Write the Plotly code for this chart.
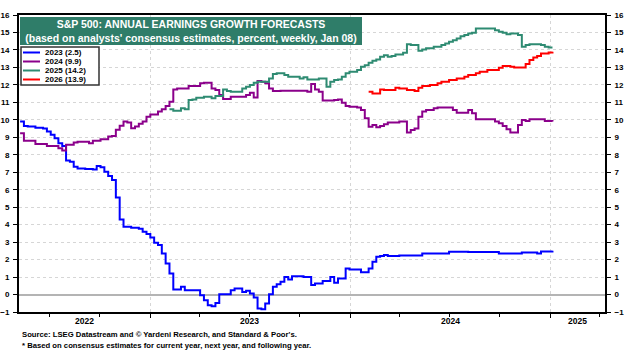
import pandas as pd
import plotly.graph_objects as go

# ---------------- data (weekly, step changes; week index from START) -------------
START = "2022-05-08"

w2023 = [0, 1, 2, 4, 6, 7, 8, 9, 10, 11, 12, 13, 14, 15, 17, 19, 20, 21, 22, 23, 24, 25, 26, 27, 29, 31,
         32, 33, 34, 35, 36, 37, 38, 39, 40, 42, 43, 47, 48, 49, 50, 51, 52, 55, 56, 58, 59, 60, 61, 62,
         63, 64, 65, 66, 67, 68, 69, 70, 71, 74, 76, 77, 79, 81, 82, 83, 85, 86, 89, 91, 92, 93, 94, 95,
         96, 99, 105, 112, 117, 125, 131, 135, 136, 139]
v2023 = [9.9, 9.65, 9.62, 9.55, 9.5, 9.33, 9.14, 8.95, 8.66, 8.5, 7.67, 7.6, 7.32, 7.22, 7.18, 7.15,
         7.36, 7.28, 7.03, 6.79, 6.56, 5.56, 4.3, 3.88, 3.82, 3.76, 3.6, 3.46, 3.27, 2.96, 2.83, 2.35,
         1.78, 1.2, 0.29, 0.44, 0.25, -0.04, -0.33, -0.61, -0.67, -0.48, 0.02, 0.25, 0.34, 0.15, 0.21,
         0.06, -0.17, -0.8, -0.84, -0.52, 0.02, 0.44, 0.59, 0.73, 1.01, 0.86, 1.05, 1.01, 0.54, 0.63,
         0.78, 1.01, 0.67, 0.92, 1.49, 1.43, 1.28, 1.49, 1.87, 2.16, 2.2, 2.26, 2.2, 2.24, 2.35, 2.45,
         2.43, 2.35, 2.41, 2.35, 2.47, 2.5]

w2024 = [0, 1, 4, 7, 10, 11, 12, 14, 15, 18, 19, 21, 23, 24, 25, 26, 27, 28, 29, 30, 31, 32, 33, 34,
         36, 37, 38, 39, 40, 41, 44, 47, 48, 50, 51, 52, 53, 55, 59, 60, 61, 62, 63, 64, 65, 66, 68,
         75, 76, 77, 78, 79, 82, 83, 84, 85, 86, 88, 89, 90, 91, 92, 93, 94, 95, 96, 99, 101, 102, 103,
         104, 105, 106, 108, 109, 113, 114, 117, 118, 119, 124, 125, 126, 127, 128, 130, 131, 132, 133,
         137, 139]
v2024 = [9.23, 8.8, 8.62, 8.5, 8.37, 8.24, 8.57, 8.7, 8.74, 8.66, 8.8, 8.89, 9.04, 9.08, 9.43, 9.66,
         9.9, 9.85, 9.52, 9.62, 9.77, 9.9, 10.18, 10.31, 10.47, 10.6, 10.79, 11.04, 11.74, 11.8, 11.93,
         12.09, 12.12, 11.8, 11.7, 11.42, 11.19, 11.32, 11.42, 11.55, 11.28, 12.22, 12.18, 12.09, 11.8,
         11.65, 11.67, 11.6, 12.05, 11.74, 11.6, 11.1, 11.13, 11.17, 10.98, 10.79, 10.75, 10.71, 10.56,
         10.09, 9.61, 9.7, 9.57, 9.65, 9.74, 9.84, 9.9, 9.27, 9.42, 9.51, 10.18, 10.47, 10.56, 10.66,
         10.7, 10.56, 10.41, 10.56, 10.37, 10.03, 9.9, 9.8, 9.65, 9.46, 9.27, 9.7, 9.99, 9.93, 10.03,
         9.93, 9.9]

w2025 = [39, 40, 42, 43, 44, 45, 46, 48, 50, 51, 53, 54, 55, 58, 59, 60, 61, 62, 65, 66, 67, 69, 70,
         73, 74, 75, 78, 80, 81, 82, 83, 84, 85, 86, 88, 89, 90, 91, 92, 93, 94, 95, 96, 97, 98, 100,
         101, 102, 104, 105, 106, 108, 110, 111, 112, 113, 114, 115, 116, 117, 118, 119, 124, 125, 126,
         127, 128, 130, 131, 132, 133, 136, 137, 138, 139]
v2025 = [10.6, 10.52, 10.66, 10.6, 11.13, 11.17, 11.27, 11.32, 11.23, 11.36, 11.74, 11.65, 11.6, 11.8,
         11.9, 11.99, 12.12, 12.18, 12.37, 12.62, 12.66, 12.56, 12.47, 12.37, 12.43, 12.31, 12.37, 11.9,
         12.18, 12.28, 12.31, 12.47, 12.66, 12.75, 12.85, 13.04, 13.13, 13.27, 13.38, 13.46, 13.61, 13.7,
         13.61, 13.65, 13.74, 13.84, 14.33, 14.28, 13.95, 14.03, 14.09, 14.18, 14.28, 14.37, 14.47,
         14.56, 14.66, 14.79, 14.85, 14.94, 14.98, 15.23, 15.13, 15.04, 14.98, 14.9, 14.94, 14.85, 14.18,
         14.28, 14.33, 14.28, 14.18, 14.14, 14.14]

w2026 = [91, 92, 94, 95, 98, 99, 101, 103, 104, 105, 107, 109, 110, 112, 114, 116, 117, 119, 120, 122,
         125, 126, 128, 129, 132, 133, 134, 135, 136, 138, 139]
v2026 = [11.6, 11.51, 11.74, 11.7, 11.84, 11.8, 11.7, 11.65, 11.84, 11.93, 11.99, 12.09, 12.18, 12.28,
         12.37, 12.47, 12.56, 12.66, 12.75, 12.85, 12.98, 13.08, 13.04, 13.0, 13.19, 13.42, 13.57, 13.65,
         13.8, 13.86, 13.9]

series_names = ["2023 (2.5)", "2024 (9.9)", "2025 (14.2)", "2026 (13.9)"]
series_weeks = [w2023, w2024, w2025, w2026]
series_vals = [v2023, v2024, v2025, v2026]
colors = ["#0000FF", "#8B008B", "#2E8B72", "#FF0000"]

year_labels = ["2022", "2023", "2024", "2025"]
year_label_pos = ["2022-09-03", "2023-07-02", "2024-07-02", "2025-02-20"]
year_starts = ["2023-01-01", "2024-01-01", "2025-01-01"]

title_l1 = "S&amp;P 500: ANNUAL EARNINGS GROWTH FORECASTS"
title_l2 = "(based on analysts' consensus estimates, percent, weekly, Jan 08)"
source_l1 = "Source: LSEG Datastream and © Yardeni Research, and Standard &amp; Poor's."
source_l2 = "* Based on consensus estimates for current year, next year, and following year."

# ---------------- figure -------------
W, H = 624, 351
ML, MR, MT, MB = 19, 19, 15, 39
PW, PH = W - ML - MR, H - MT - MB
FONT = "Liberation Sans, Arial, sans-serif"


def px(x):
    return (x - ML) / PW


def py(y):
    return 1 - (y - MT) / PH


start = pd.Timestamp(START)
fig = go.Figure()
for name, ws, vs, c in zip(series_names, series_weeks, series_vals, colors):
    dates = [start + pd.Timedelta(weeks=w) for w in ws]
    fig.add_trace(go.Scatter(x=dates, y=vs, mode="lines", name=name, line=dict(color=c, width=2, shape="hv"),
                             showlegend=False))
# empty trace to materialise the right-hand axis
fig.add_trace(go.Scatter(x=[None], y=[None], yaxis="y2", showlegend=False, hoverinfo="skip"))

tickfont = dict(family=FONT, size=8, color="black", weight="bold")

fig.update_layout(
    width=W, height=H,
    margin=dict(l=ML, r=MR, t=MT, b=MB, pad=0, autoexpand=False),
    paper_bgcolor="white", plot_bgcolor="white",
    font=dict(family=FONT, color="black"),
    xaxis=dict(type="date", range=["2022-05-06", "2025-04-11"], tickmode="array", tickvals=year_starts,
               showticklabels=False, ticks="outside", ticklen=4, tickcolor="black", automargin=False,
               showgrid=True, griddash="dot", gridcolor="#d6d6d6", gridwidth=1,
               showline=True, linecolor="black", linewidth=2, mirror=True, zeroline=False,
               minor=dict(dtick="M3", tick0="2023-01-01", ticks="outside", ticklen=3, tickcolor="black",
                          showgrid=False)),
    yaxis=dict(range=[-1, 16], dtick=1, tick0=0, ticks="outside", ticklen=4, tickcolor="black",
               tickfont=tickfont, showgrid=True, griddash="dot", gridcolor="#d6d6d6", gridwidth=1,
               zeroline=True, zerolinecolor="#b4b4b4", zerolinewidth=2, automargin=False,
               showline=True, linecolor="black", linewidth=2, mirror=True, ticklabelstandoff=2),
    yaxis2=dict(range=[-1, 16], dtick=1, tick0=0, overlaying="y", side="right", anchor="x",
                ticks="outside", ticklen=4, tickcolor="black", tickfont=tickfont, showgrid=False,
                zeroline=False, showline=True, linecolor="black", linewidth=2, ticklabelstandoff=2,
                automargin=False),
)

ann = []
# title box
ann.append(dict(xref="paper", yref="paper", x=px(20), y=py(17), xanchor="left", yanchor="top",
                width=342, height=28, bgcolor="#2F7D69", borderpad=0, borderwidth=0,
                text="<b>" + title_l1 + "</b><br><b>" + title_l2 + "</b>", showarrow=False, align="center",
                font=dict(family=FONT, size=10.5, color="white")))
# year labels
for lab, pos in zip(year_labels, year_label_pos):
    ann.append(dict(xref="x", yref="paper", x=pos, y=py(321), text="<b>" + lab + "</b>", showarrow=False,
                    xanchor="center", yanchor="middle", font=dict(family=FONT, size=8.5, color="black")))
# source lines
ann.append(dict(xref="paper", yref="paper", x=px(20), y=py(334), xanchor="left", yanchor="middle",
                text="<b>" + source_l1 + "</b>", showarrow=False, font=dict(family=FONT, size=7.7, color="black")))
ann.append(dict(xref="paper", yref="paper", x=px(20), y=py(345), xanchor="left", yanchor="middle",
                text="<b>" + source_l2 + "</b>", showarrow=False, font=dict(family=FONT, size=7.7, color="black")))

shapes = []
# legend box
shapes.append(dict(type="rect", xref="paper", yref="paper", x0=px(21), x1=px(99), y0=py(85), y1=py(47),
                   line=dict(color="#333333", width=1.5), fillcolor="white", layer="above"))
for i, (name, c) in enumerate(zip(series_names, colors)):
    yy = 52.5 + 9 * i
    shapes.append(dict(type="line", xref="paper", yref="paper", x0=px(23), x1=px(40), y0=py(yy), y1=py(yy),
                       line=dict(color=c, width=2), layer="above"))
    ann.append(dict(xref="paper", yref="paper", x=px(43), y=py(yy), xanchor="left", yanchor="middle",
                    text="<b>" + name + "</b>", showarrow=False, font=dict(family=FONT, size=8, color="black")))

fig.update_layout(annotations=ann, shapes=shapes)
fig.write_html("out.html")
